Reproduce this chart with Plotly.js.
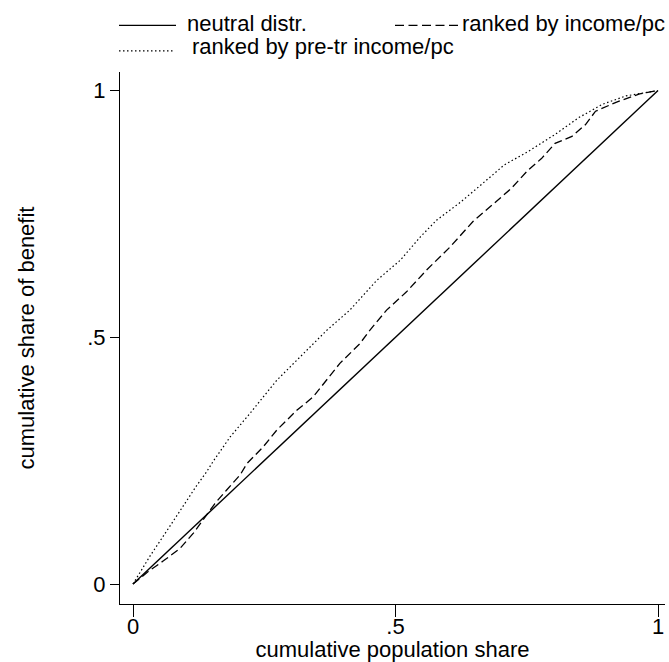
<!DOCTYPE html>
<html>
<head>
<meta charset="utf-8">
<script src="https://cdn.plot.ly/plotly-3.0.1.min.js"></script>
<style>html,body{margin:0;padding:0;background:#fff;}#chart{width:669px;height:662px;}</style>
</head>
<body>
<div id="chart"></div>
<script>
// Neutral distribution (45-degree line)
const neutralX = [0, 1];
const neutralY = [0, 1];

// Ranked by income/pc (dashed)
const incomeX = [0, 0.030, 0.058, 0.0895, 0.115, 0.134, 0.156, 0.178, 0.204, 0.217, 0.248, 0.274, 0.312, 0.343, 0.369, 0.394, 0.432, 0.451, 0.483, 0.521, 0.559, 0.604, 0.648, 0.681, 0.720, 0.752, 0.778, 0.804, 0.836, 0.862, 0.881, 0.920, 0.965, 1];
const incomeY = [0, 0.026, 0.047, 0.072, 0.103, 0.130, 0.163, 0.190, 0.221, 0.244, 0.278, 0.312, 0.352, 0.379, 0.413, 0.447, 0.487, 0.514, 0.555, 0.592, 0.636, 0.683, 0.735, 0.766, 0.801, 0.838, 0.862, 0.893, 0.907, 0.931, 0.958, 0.976, 0.993, 1];

// Ranked by pre-transfer income/pc (dotted)
const pretrX = [0, 0.032, 0.064, 0.096, 0.121, 0.140, 0.153, 0.185, 0.223, 0.274, 0.318, 0.369, 0.413, 0.464, 0.509, 0.547, 0.578, 0.623, 0.662, 0.707, 0.752, 0.804, 0.849, 0.894, 0.939, 1];
const pretrY = [0, 0.056, 0.107, 0.160, 0.199, 0.227, 0.249, 0.298, 0.346, 0.413, 0.460, 0.514, 0.555, 0.615, 0.656, 0.703, 0.737, 0.773, 0.808, 0.849, 0.876, 0.911, 0.945, 0.972, 0.989, 1];

const tickVals = [0, 0.5, 1];
const tickText = ['0', '.5', '1'];

const seriesNames = ['neutral distr.', 'ranked by income/pc', 'ranked by pre-tr income/pc'];

const FONT = 'Liberation Sans, Arial, sans-serif';
const DASH = '8px,4px';
const DOT = '1.5px,2.5px';

const traces = [
  {x: neutralX, y: neutralY, name: seriesNames[0], mode: 'lines', line: {color: '#000', width: 1.4}, showlegend: false, hoverinfo: 'skip'},
  {x: incomeX, y: incomeY, name: seriesNames[1], mode: 'lines', line: {color: '#000', width: 1.3, dash: DASH}, showlegend: false, hoverinfo: 'skip'},
  {x: pretrX, y: pretrY, name: seriesNames[2], mode: 'lines', line: {color: '#000', width: 1.2, dash: DOT}, showlegend: false, hoverinfo: 'skip'}
];

// plot area pixel geometry
const L = 120, T = 72, W = 545, H = 532;
const px = v => (v - L) / W;
const py = v => (T + H - v) / H;

const layout = {
  width: 669, height: 662,
  margin: {l: L, r: 669 - L - W, t: T, b: 662 - T - H},
  paper_bgcolor: '#fff', plot_bgcolor: '#fff',
  font: {family: FONT, size: 22, color: '#000'},
  xaxis: {
    range: [-13/525, (W - 13)/525],
    tickvals: tickVals, ticktext: tickText,
    ticks: 'outside', ticklen: 12, tickwidth: 1, tickcolor: '#000',
    ticklabelstandoff: -9,
    showline: true, linecolor: '#000', linewidth: 1, mirror: false,
    showgrid: false, zeroline: false,
    tickfont: {family: FONT, size: 22},
    title: {text: 'cumulative population share', font: {family: FONT, size: 22}, standoff: 10}
  },
  yaxis: {
    range: [-(604 - 584)/493.5, (584 - 72)/493.5],
    tickvals: tickVals, ticktext: tickText,
    ticks: 'outside', ticklen: 9, tickwidth: 1, tickcolor: '#000',
    showline: true, linecolor: '#000', linewidth: 1, mirror: false,
    showgrid: false, zeroline: false,
    tickfont: {family: FONT, size: 22},
    title: {text: 'cumulative share of benefit', font: {family: FONT, size: 22}, standoff: 46}
  },
  shapes: [
    {type: 'line', xref: 'paper', yref: 'paper', x0: px(119), x1: px(176), y0: py(25.4), y1: py(25.4), line: {color: '#000', width: 1.4}},
    {type: 'line', xref: 'paper', yref: 'paper', x0: px(395), x1: px(458), y0: py(25.4), y1: py(25.4), line: {color: '#000', width: 1.3, dash: '9px,4.5px'}},
    {type: 'line', xref: 'paper', yref: 'paper', x0: px(119), x1: px(172.6), y0: py(50.8), y1: py(50.8), line: {color: '#000', width: 1.2, dash: DOT}}
  ],
  annotations: [
    {text: seriesNames[0], xref: 'paper', yref: 'paper', x: px(186), y: py(23.4), xanchor: 'left', yanchor: 'middle', showarrow: false, borderpad: 0, font: {family: FONT, size: 22}},
    {text: seriesNames[1], xref: 'paper', yref: 'paper', x: px(461), y: py(23.4), xanchor: 'left', yanchor: 'middle', showarrow: false, borderpad: 0, font: {family: FONT, size: 22}},
    {text: seriesNames[2], xref: 'paper', yref: 'paper', x: px(190.7), y: py(46.8), xanchor: 'left', yanchor: 'middle', showarrow: false, borderpad: 0, font: {family: FONT, size: 22}}
  ]
};

Plotly.newPlot('chart', traces, layout, {staticPlot: true, displayModeBar: false});
</script>
</body>
</html>
